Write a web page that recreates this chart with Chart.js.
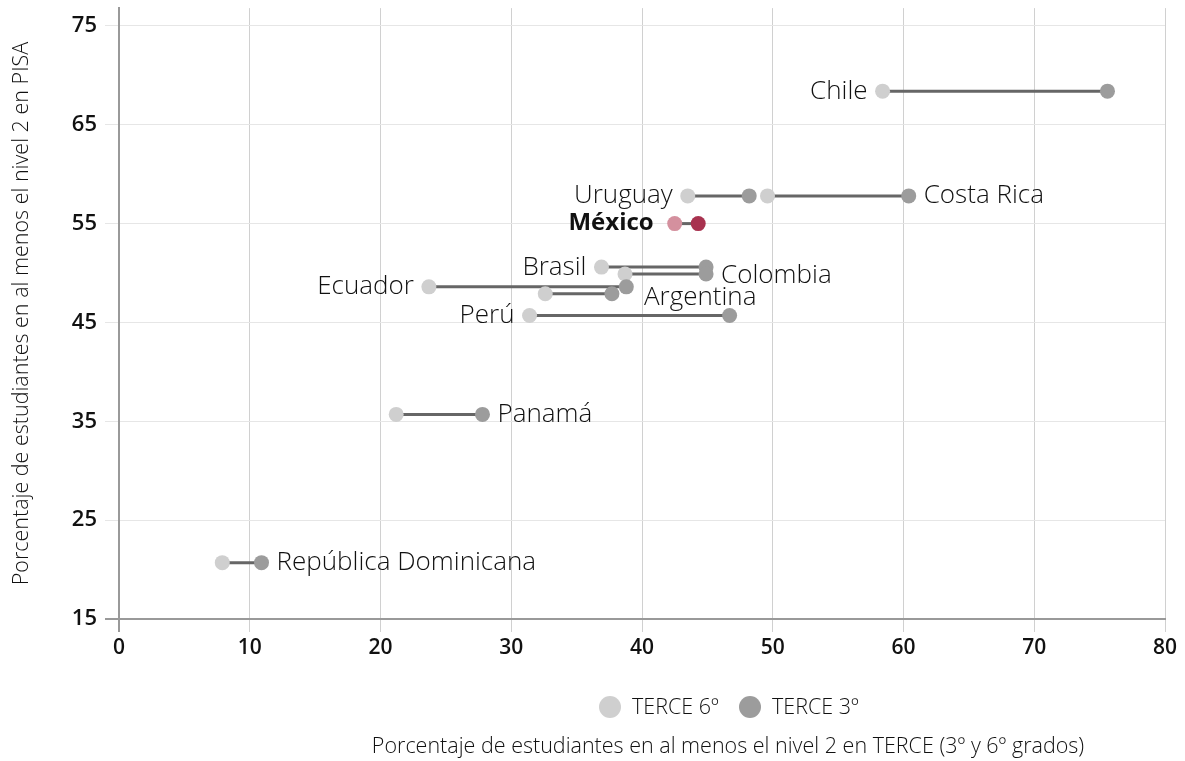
<!DOCTYPE html>
<html><head><meta charset="utf-8">
<script src="https://cdn.jsdelivr.net/npm/chart.js@4/dist/chart.umd.min.js"></script>
<style>html,body{margin:0;padding:0;background:#fff}#wrap{width:1185px;height:761px;position:relative}</style>
</head><body><div id="wrap"><canvas id="c"></canvas></div>
<script>
// ---- data ----
const countries = ['Chile','Uruguay','Costa Rica','México','Brasil','Colombia','Ecuador','Argentina','Perú','Panamá','República Dominicana'];
const terce6 = [58.4, 43.5, 49.6, 42.5, 36.9, 38.7, 23.7, 32.6, 31.4, 21.2, 7.9];
const terce3 = [75.6, 48.2, 60.4, 44.3, 44.9, 44.9, 38.8, 37.7, 46.7, 27.8, 10.9];
const pisa   = [68.4, 57.8, 57.8, 55.0, 50.6, 49.9, 48.6, 47.9, 45.7, 35.7, 20.7];
const labelSide = ['left','left','right','left','left','right','left','right','left','right','right'];
const seriesNames = ['TERCE 6º','TERCE 3º'];
const xTicks = [0,10,20,30,40,50,60,70,80];
const yTicks = [15,25,35,45,55,65,75];
const xTitle = 'Porcentaje de estudiantes en al menos el nivel 2 en TERCE (3º y 6º grados)';
const yTitle = 'Porcentaje de estudiantes en al menos el nivel 2 en PISA';
const highlight = 'México';

// ---- styles ----
const FONT = "'Open Sans','Noto Sans',sans-serif";
const C6 = '#cfcfcf', C3 = '#9c9c9c', M6 = '#d4909e', M3 = '#a8324f';
const hi = countries.indexOf(highlight);
const labelAdjust = {'Argentina':{dx:17,dy:4},'Colombia':{dx:0,dy:2},'México':{dx:-6,dy:0}};

const lineSets = countries.map((c,i)=>({
  type:'line', label:c, data:[{x:terce6[i],y:pisa[i]},{x:terce3[i],y:pisa[i]}],
  borderColor:'#666', borderWidth:3, pointRadius:0, pointHoverRadius:0, order:3
}));
const pts6 = {type:'scatter', label:seriesNames[0], data:countries.map((c,i)=>({x:terce6[i],y:pisa[i]})),
  backgroundColor:ctx=>ctx.dataIndex===hi?M6:C6, pointRadius:7.5, borderWidth:0, order:2};
const pts3 = {type:'scatter', label:seriesNames[1], data:countries.map((c,i)=>({x:terce3[i],y:pisa[i]})),
  backgroundColor:ctx=>ctx.dataIndex===hi?M3:C3, pointRadius:7.5, borderWidth:0, order:1};

const labelPlugin = {
  id:'labels',
  afterDatasetsDraw(chart){
    const {ctx, scales:{x,y}} = chart;
    ctx.save();
    countries.forEach((c,i)=>{
      const side = labelSide[i];
      const adj = labelAdjust[c]||{dx:0,dy:0};
      const py = y.getPixelForValue(pisa[i]) + adj.dy;
      let px;
      if(side==='left'){ px = x.getPixelForValue(Math.min(terce6[i],terce3[i])) - 15 + adj.dx; ctx.textAlign='right'; }
      else { px = x.getPixelForValue(Math.max(terce6[i],terce3[i])) + 15 + adj.dx; ctx.textAlign='left'; }
      ctx.textBaseline='middle';
      ctx.fillStyle = '#111';
      ctx.font = (i===hi ? '700 24px ' : '300 26px ') + FONT;
      ctx.fillText(c, px, py);
    });
    ctx.restore();
  },
  afterDraw(chart){
    const {ctx} = chart;
    ctx.save();
    ctx.font = '300 21.5px ' + FONT;
    ctx.textBaseline='middle'; ctx.textAlign='left';
    const items = [{c:C6,t:seriesNames[0],x:610},{c:C3,t:seriesNames[1],x:750}];
    items.forEach(it=>{
      ctx.fillStyle = it.c; ctx.beginPath(); ctx.arc(it.x,707,11,0,Math.PI*2); ctx.fill();
      ctx.fillStyle='#111'; ctx.fillText(it.t, it.x+22, 708);
    });
    ctx.textAlign='center';
    ctx.fillText(xTitle, 728, 747);
    ctx.restore();
  }
};

new Chart(document.getElementById('c'), {
  data:{datasets:[...lineSets, pts6, pts3]},
  options:{
    responsive:true, maintainAspectRatio:false, animation:false,
    layout:{padding:{top:8,right:20,left:0,bottom:0}},
    plugins:{legend:{display:false}, tooltip:{enabled:false}},
    scales:{
      x:{type:'linear', min:0, max:80,
        afterBuildTicks:s=>{s.ticks = xTicks.map(v=>({value:v}));},
        afterFit:s=>{s.height=142; s.paddingRight=0; s.paddingLeft=0;},
        ticks:{font:{family:FONT,size:21,weight:'600',lineHeight:0.6}, color:'#111', padding:10, maxRotation:0},
        grid:{color:ctx=>ctx.tick && ctx.tick.value===0?'#999':'#d0d0d0', lineWidth:ctx=>ctx.tick && ctx.tick.value===0?2:1, tickLength:13},
        border:{display:true, color:'#999', width:2}
      },
      y:{type:'linear', min:15, max:76.8,
        afterBuildTicks:s=>{s.ticks = yTicks.map(v=>({value:v}));},
        afterFit:s=>{s.width=119;},
        ticks:{font:{family:FONT,size:22,weight:'600',lineHeight:0.01}, color:'#111', padding:8},
        grid:{color:ctx=>ctx.tick && ctx.tick.value===15?'#999':'#e6e6e6', lineWidth:ctx=>ctx.tick && ctx.tick.value===15?2:1, tickLength:14},
        border:{display:true, color:'#999', width:2},
        title:{display:true, text:yTitle, font:{family:FONT,size:21.5,weight:'300'}, color:'#111', padding:{top:9,bottom:0}}
      }
    }
  },
  plugins:[labelPlugin]
});
</script>
</body></html>
